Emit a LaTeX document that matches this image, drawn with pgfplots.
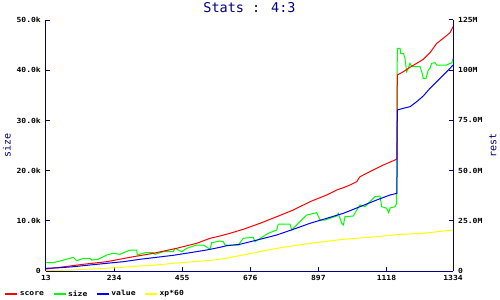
\documentclass[border=0pt]{standalone}
\usepackage{pgfplots}
\pgfplotsset{compat=1.18}
\usepackage{fontspec}
\setmainfont{DejaVu Sans Mono}
\newfontfamily\tickfont[FakeStretch=1.15]{DejaVu Sans Mono}
\definecolor{navy}{RGB}{0,0,128}
\definecolor{pred}{RGB}{255,0,0}
\definecolor{pgreen}{RGB}{0,255,0}
\definecolor{pblue}{RGB}{0,0,255}
\definecolor{pyellow}{RGB}{255,255,0}
\newcommand{\tf}{\tickfont\bfseries\fontsize{7bp}{8bp}\selectfont}
\newcommand{\lf}{\fontsize{10bp}{11bp}\selectfont}
\pgfplotsset{common/.style={
  scale only axis, width=407bp, height=251bp,
  xmin=13, xmax=1334, ymin=0,
  tick align=inside, major tick length=4bp,
  tick style={navy, line width=1bp},
  axis line style={navy, line width=1bp},
  ticklabel style={font=\tf, inner sep=0pt, black},
  scaled ticks=false,
  every axis plot/.append style={line width=1bp, mark=none},
}}
\begin{document}
\begin{tikzpicture}
\path[use as bounding box] (-46bp,-29bp) rectangle (454bp,271bp);
\begin{axis}[common,
  axis x line*=bottom, axis y line*=left,
  ymax=50000,
  ytick={0,10000,20000,30000,40000,50000},
  yticklabels={0,10.0k,20.0k,30.0k,40.0k,50.0k},
  xtick={13,234,455,676,897,1118,1334},
  xticklabels={13,234,455,676,897,1118,1334},
  xticklabel style={yshift=-4bp},
  yticklabel style={xshift=-5bp},
  ylabel={size},
  every axis y label/.style={at={(axis description cs:-0.0958,0.5)}, rotate=90, anchor=center, text=navy, font=\lf},
  title={Stats : 4:3},
  every axis title/.style={at={(axis description cs:0.5,1)}, anchor=center, yshift=12bp, text=navy, font=\fontsize{13.5bp}{15bp}\selectfont},
]
\addplot[pgreen] coordinates {
(13,1653) (36.7,1653) (58.4,1992) (90.9,2530) (101.6,2729) (112.6,2052) (134.1,2530) (155.8,2530) (161.3,2191) (182.7,2331)
(210,3187) (231.4,3526) (253.2,3327) (285.6,4183) (307.4,4183) (309.3,3187) (334.3,3645) (361.3,3645) (366.8,3327) (393.7,3845)
(426.2,3845) (431.7,4522) (453.4,3845) (469.7,4522) (502.1,5179) (523.6,5179) (545.3,4323) (550.8,5637) (577.7,5976) (588.5,5837)
(594,5179) (637.1,5179) (653.4,6514) (685.8,6713) (691.3,5837) (734.5,7510) (761.8,8167) (767,9362) (805,9362) (810.5,8167)
(831.9,9502) (859.2,11155) (891.6,11613) (902.3,10159) (918.6,10159) (956.5,10956) (961.7,11494) (972.8,9502) (978,9163) (983.5,10817)
(1010.4,10956) (1021.4,12151) (1032.1,13147) (1048.3,12809) (1080.8,14801) (1097,14940) (1102.5,12809) (1118.8,12490) (1125,11613) (1130,12550)
(1145.7,12809) (1151.3,13486) (1153.2,44361) (1162,44361) (1164.3,43365) (1172.7,43365) (1178.2,42369) (1181.5,40696) (1183.7,39700) (1188.9,40377)
(1194.4,41373) (1199.9,40696) (1226.9,40696) (1232.4,39700) (1237.6,38386) (1246.4,38386) (1253.8,40039) (1259.3,40377) (1264.8,41373) (1275.6,41493)
(1281.1,41035) (1313.5,41035) (1324.3,41373) (1330,41400) (1334,42310)
};
\end{axis}
\begin{axis}[common,
  axis y line*=right, axis x line=none,
  ymax=125,
  ytick={0,25,50,75,100,125},
  yticklabels={0,25.0M,50.0M,75.0M,100M,125M},
  yticklabel style={xshift=5bp},
  ylabel={rest},
  every axis y label/.style={at={(axis description cs:1.0983,0.5)}, rotate=90, anchor=center, text=navy, font=\lf},
  legend columns=-1,
  legend style={at={(axis description cs:-0.103,-0.0916)}, anchor=west, draw=none, fill=none, inner sep=0pt, font=\tf,
    /tikz/every even column/.append style={column sep=7bp}, nodes={inner sep=1.5bp}},
  legend image code/.code={\draw[#1, line width=2bp] (0bp,0bp) -- (12bp,0bp);},
]
\addplot[pred] coordinates {
(13,1.0) (58.4,1.84) (134.1,3.34) (210,4.63) (285.6,6.82) (361.3,8.81) (437.2,11.30) (502.1,13.79) (545.3,16.28) (577.7,17.43)
(610.2,18.77) (653.4,20.77) (707.6,23.75) (761.8,27.04) (815.7,30.38) (869.9,34.51) (924.1,37.85) (956.5,40.34) (978,41.48) (999.7,42.83)
(1021.4,44.47) (1032.1,46.96) (1075.3,50.30) (1107.7,52.79) (1145.7,55.28) (1152,55.78)
(1153.2,97.6) (1172.7,99.25) (1194.4,101.44) (1216.2,103.43) (1237.6,105.43) (1259.3,108.71) (1281.1,113.39) (1302.5,115.88) (1324.3,118.67) (1334,121.66)
};
\addlegendentry{score}
\addlegendimage{pgreen}
\addlegendentry{size}
\addplot[pblue] coordinates {
(13,1.34) (58.4,1.64) (101.6,2.14) (155.8,2.99) (210,3.83) (263.9,4.63) (318.1,5.83) (372.3,6.82) (426.2,7.82) (480.4,9.11)
(534.6,10.46) (577.7,11.80) (599.5,12.60) (642.7,13.30) (707.6,15.79) (761.8,17.93) (815.7,20.77) (869.9,23.75) (924.1,26.24) (978,28.73)
(1032.1,32.02) (1086.3,35.36) (1129.5,37.85) (1152,38.69)
(1153.2,80.18) (1172.7,81.03) (1194.4,81.82) (1216.2,84.31) (1237.6,87.15) (1259.3,90.98) (1281.1,94.27) (1302.5,97.61) (1324.3,100.94) (1334,102.59)
};
\addlegendentry{value}
\addplot[pyellow] coordinates {
(13,0.15) (101.6,0.50) (210,1.34) (285.6,2.14) (372.3,2.99) (426.2,3.83) (480.4,4.48) (534.6,5.13) (577.7,5.83) (653.4,7.97)
(761.8,11.30) (869.9,13.79) (978,15.79) (1086.3,17.08) (1156.5,18.18) (1237.6,18.77) (1334,20.42)
};
\addlegendentry{xp*60}
\end{axis}
\end{tikzpicture}
\end{document}
